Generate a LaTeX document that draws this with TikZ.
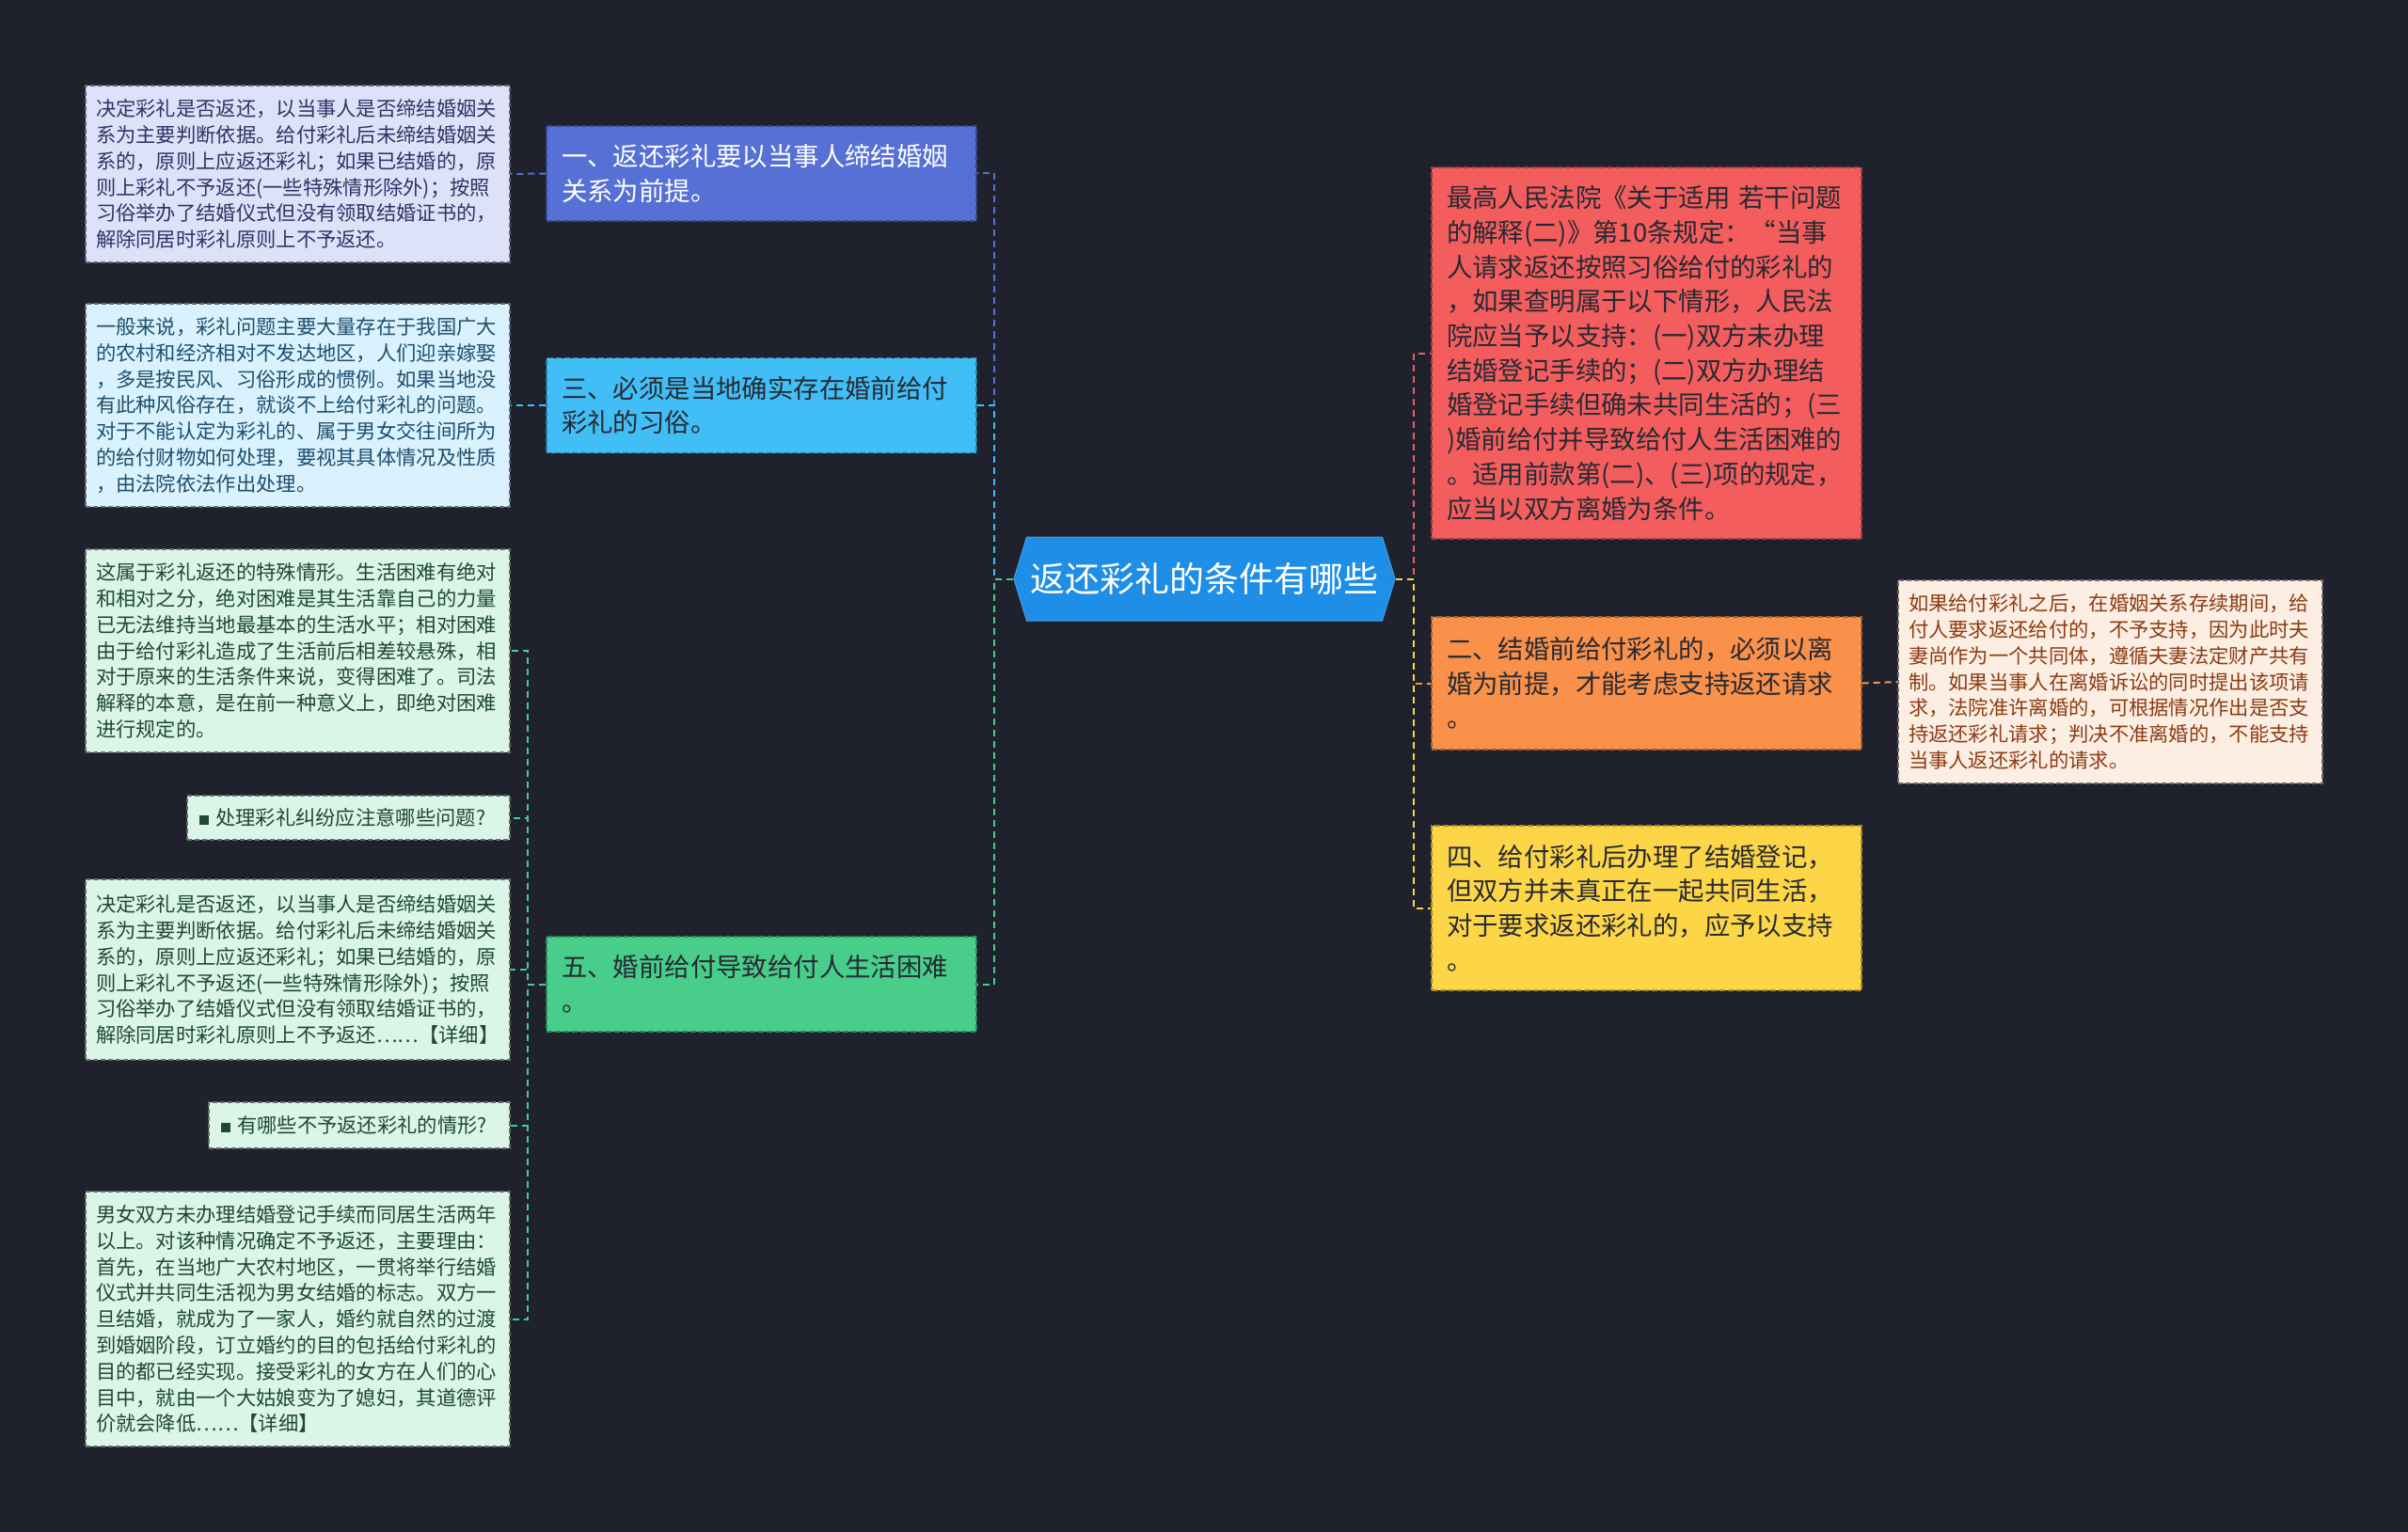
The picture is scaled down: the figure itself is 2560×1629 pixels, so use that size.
\documentclass[tikz,border=0pt]{standalone}
\usepackage{fontspec}
\setmainfont{Noto Sans CJK SC}
\usetikzlibrary{shapes.symbols}

\definecolor{bgdark}{HTML}{1F222D}
\definecolor{hubblue}{HTML}{1E8EE6}
\definecolor{topicA}{HTML}{5670D6}
\definecolor{topicC}{HTML}{41BEF5}
\definecolor{topicE}{HTML}{49CD8B}
\definecolor{topicR}{HTML}{F35D5D}
\definecolor{topicB}{HTML}{FA914B}
\definecolor{topicD}{HTML}{FDD647}
\definecolor{leafA}{HTML}{DEE2F8}
\definecolor{leafC}{HTML}{D9F2FD}
\definecolor{leafE}{HTML}{DCF5E9}
\definecolor{leafB}{HTML}{FDEEE4}
\definecolor{inkA}{HTML}{2B3566}
\definecolor{inkC}{HTML}{1F4E6E}
\definecolor{inkE}{HTML}{1E4A30}
\definecolor{inkB}{HTML}{8B3C12}
\definecolor{inkdark}{HTML}{262A33}

\begin{document}
\begin{tikzpicture}[x=1pt, y=-1pt,
    hub/.style={signal, signal to=east and west, signal pointer angle=146,
        fill=hubblue, draw=hubblue!85!white, line width=1pt, text=white,
        minimum width=405pt, minimum height=89pt, inner xsep=4pt,
        font=\fontsize{37}{41}\selectfont},
    topic/.style={rectangle, text width=425pt, inner xsep=16pt, align=left,
        line width=1.2pt, dash pattern=on 6pt off 3pt,
        font=\fontsize{27.4}{36.7}\selectfont},
    leafbox/.style={rectangle, text width=429pt, inner xsep=11pt, align=left,
        line width=1.2pt, dash pattern=on 5pt off 3pt,
        font=\fontsize{21.3}{27.8}\selectfont},
    link/.style={line width=2pt, dash pattern=on 7pt off 5pt}]

    % Background
    \fill[bgdark] (0,0) rectangle (2560,1629);
    \useasboundingbox (0,0) rectangle (2560,1629);

    % Root
    \node[hub] (root) at (1280.5,615.5) {返还彩礼的条件有哪些};

    % Left topics
    \node[topic, fill=topicA, draw=topicA!65!black, text=white, minimum height=101pt]
        (sec1) at (809.5,184.5) {一、返还彩礼要以当事人缔结婚姻\\关系为前提。};
    \node[topic, fill=topicC, draw=topicC!65!black, text=inkdark, minimum height=101pt]
        (sec3) at (809.5,431) {三、必须是当地确实存在婚前给付\\彩礼的习俗。};
    \node[topic, fill=topicE, draw=topicE!65!black, text=inkdark, minimum height=101pt]
        (sec5) at (809.5,1046.5) {五、婚前给付导致给付人生活困难\\。};

    % Right topics
    \node[topic, fill=topicR, draw=topicR!65!black, text=inkdark, minimum height=395pt]
        (law) at (1750.5,375.5) {最高人民法院《关于适用 若干问题\\的解释(二)》第10条规定：“当事\\人请求返还按照习俗给付的彩礼的\\，如果查明属于以下情形，人民法\\院应当予以支持：(一)双方未办理\\结婚登记手续的；(二)双方办理结\\婚登记手续但确未共同生活的；(三\\)婚前给付并导致给付人生活困难的\\。适用前款第(二)、(三)项的规定，\\应当以双方离婚为条件。};
    \node[topic, fill=topicB, draw=topicB!65!black, text=inkdark, minimum height=141pt]
        (sec2) at (1750.5,726.5) {二、结婚前给付彩礼的，必须以离\\婚为前提，才能考虑支持返还请求\\。};
    \node[topic, fill=topicD, draw=topicD!65!black, text=inkdark, minimum height=175pt]
        (sec4) at (1750.5,965.5) {四、给付彩礼后办理了结婚登记，\\但双方并未真正在一起共同生活，\\对于要求返还彩礼的，应予以支持\\。};

    % Leaves
    \node[leafbox, fill=leafA, draw=leafA!45!black, text=inkA, minimum height=188pt]
        (l1) at (316.5,185) {决定彩礼是否返还，以当事人是否缔结婚姻关\\系为主要判断依据。给付彩礼后未缔结婚姻关\\系的，原则上应返还彩礼；如果已结婚的，原\\则上彩礼不予返还(一些特殊情形除外)；按照\\习俗举办了结婚仪式但没有领取结婚证书的，\\解除同居时彩礼原则上不予返还。};
    \node[leafbox, fill=leafC, draw=leafC!45!black, text=inkC, minimum height=216pt]
        (l3) at (316.5,431) {一般来说，彩礼问题主要大量存在于我国广大\\的农村和经济相对不发达地区，人们迎亲嫁娶\\，多是按民风、习俗形成的惯例。如果当地没\\有此种风俗存在，就谈不上给付彩礼的问题。\\对于不能认定为彩礼的、属于男女交往间所为\\的给付财物如何处理，要视其具体情况及性质\\，由法院依法作出处理。};
    \node[leafbox, fill=leafE, draw=leafE!45!black, text=inkE, minimum height=216pt]
        (l5a) at (316.5,692) {这属于彩礼返还的特殊情形。生活困难有绝对\\和相对之分，绝对困难是其生活靠自己的力量\\已无法维持当地最基本的生活水平；相对困难\\由于给付彩礼造成了生活前后相差较悬殊，相\\对于原来的生活条件来说，变得困难了。司法\\解释的本意，是在前一种意义上，即绝对困难\\进行规定的。};
    \node[leafbox, fill=leafE, draw=leafE!45!black, text=inkE, text width=317pt,
        inner xsep=13pt, minimum height=47pt]
        (l5b) at (370.5,869.5) {\rule[1pt]{10pt}{10pt}\ 处理彩礼纠纷应注意哪些问题?};
    \node[leafbox, fill=leafE, draw=leafE!45!black, text=inkE, minimum height=192pt]
        (l5c) at (316.5,1031) {决定彩礼是否返还，以当事人是否缔结婚姻关\\系为主要判断依据。给付彩礼后未缔结婚姻关\\系的，原则上应返还彩礼；如果已结婚的，原\\则上彩礼不予返还(一些特殊情形除外)；按照\\习俗举办了结婚仪式但没有领取结婚证书的，\\解除同居时彩礼原则上不予返还……【详细】};
    \node[leafbox, fill=leafE, draw=leafE!45!black, text=inkE, text width=294pt,
        inner xsep=13pt, minimum height=49pt]
        (l5d) at (382,1196.5) {\rule[1pt]{10pt}{10pt}\ 有哪些不予返还彩礼的情形?};
    \node[leafbox, fill=leafE, draw=leafE!45!black, text=inkE, minimum height=271pt]
        (l5e) at (316.5,1402.5) {男女双方未办理结婚登记手续而同居生活两年\\以上。对该种情况确定不予返还，主要理由：\\首先，在当地广大农村地区，一贯将举行结婚\\仪式并共同生活视为男女结婚的标志。双方一\\旦结婚，就成为了一家人，婚约就自然的过渡\\到婚姻阶段，订立婚约的目的包括给付彩礼的\\目的都已经实现。接受彩礼的女方在人们的心\\目中，就由一个大姑娘变为了媳妇，其道德评\\价就会降低……【详细】};
    \node[leafbox, fill=leafB, draw=leafB!45!black, text=inkB, minimum height=216pt]
        (r2) at (2243.5,725) {如果给付彩礼之后，在婚姻关系存续期间，给\\付人要求返还给付的，不予支持，因为此时夫\\妻尚作为一个共同体，遵循夫妻法定财产共有\\制。如果当事人在离婚诉讼的同时提出该项请\\求，法院准许离婚的，可根据情况作出是否支\\持返还彩礼请求；判决不准离婚的，不能支持\\当事人返还彩礼的请求。};

    % Root to topics
    \foreach \sec/\col in {sec1/topicA, sec3/topicC, sec5/topicE}
        \draw[link, \col] (root.west) -- ++(-20,0) |- (\sec.east);
    \foreach \sec/\col in {law/topicR, sec2/topicB, sec4/topicD}
        \draw[link, \col] (root.east) -- ++(19,0) |- (\sec.west);

    % Topics to leaves
    \draw[link, topicA] (sec1.west) -- (l1.east);
    \draw[link, topicC] (sec3.west) -- (l3.east);
    \draw[link, topicB] (sec2.east) -- (r2.west);
    \foreach \leaf in {l5a, l5b, l5c, l5d, l5e}
        \draw[link, topicE] (sec5.west) -- ++(-19,0) |- (\leaf.east);
\end{tikzpicture}
\end{document}
